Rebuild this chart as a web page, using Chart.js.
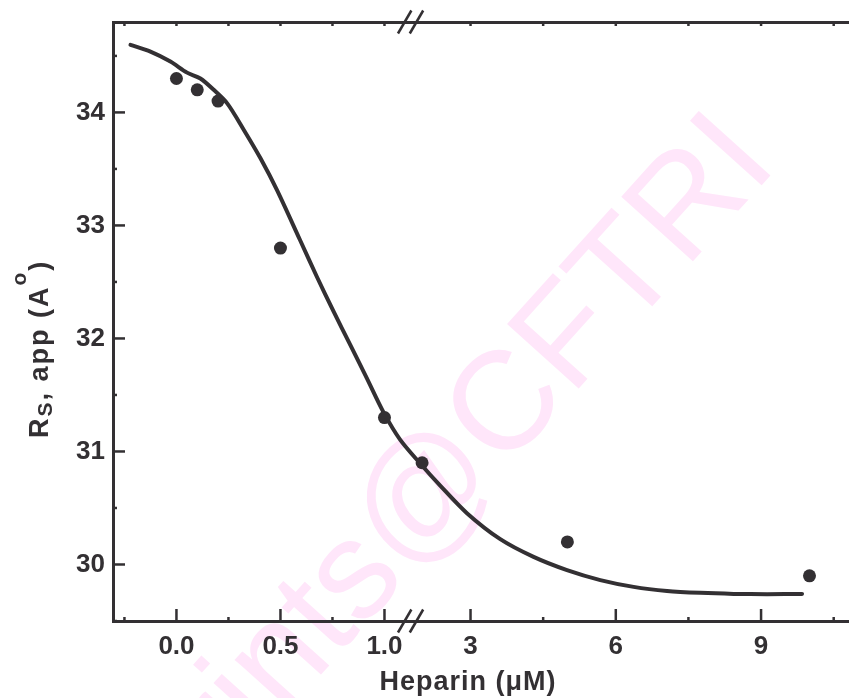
<!DOCTYPE html>
<html>
<head>
<meta charset="utf-8">
<script src="https://cdn.jsdelivr.net/npm/chart.js@4.4.1/dist/chart.umd.min.js"></script>
<style>
  html, body { margin: 0; padding: 0; background: #ffffff; }
  #wrap { width: 849px; height: 698px; }
</style>
</head>
<body>
<div id="wrap"><canvas id="c" width="849" height="698"></canvas></div>
<script>
// Measured apparent Stokes radius against heparin concentration
const heparin = [0, 0.1, 0.2, 0.5, 1.0, 2.0, 5.0, 10.0];
const rsApp   = [34.3, 34.2, 34.1, 32.8, 31.3, 30.9, 30.2, 29.9];

// Fitted curve, sampled along its length
const fitHeparin = [-0.221, -0.125, -0.029, 0.051, 0.115, 0.179, 0.244, 0.324, 0.404, 0.484,
                    0.594, 0.675, 0.754, 0.835, 0.915, 0.995, 1.075,
                    1.961, 2.374, 2.926, 3.614, 4.302, 4.992, 5.68, 6.368, 7.058, 7.746, 8.434, 9.124, 9.847];
const fitRs = [34.598, 34.538, 34.45, 34.352, 34.30, 34.20, 34.08, 33.845, 33.594, 33.31,
               32.871, 32.546, 32.243, 31.946, 31.649, 31.348, 31.105,
               30.894, 30.698, 30.454, 30.224, 30.067, 29.95, 29.862, 29.802, 29.766, 29.749, 29.74, 29.737, 29.74];

// Axis ticks
const xTickValues = [0, 0.5, 1.0, 3, 6, 9];
const xTickLabels = ['0.0', '0.5', '1.0', '3', '6', '9'];
const xMinorValues = [-0.25, 0.25, 0.75, 4.5, 7.5, 10.5];
const yTickValues = [30, 31, 32, 33, 34];
const yMinorValues = [29.5, 30.5, 31.5, 32.5, 33.5, 34.5];

// Broken x axis: 0..1.125 at full scale, then 1.76 onward compressed
const BREAK_LO = 1.125;
const BREAK_HI = 1.76;
const RIGHT_SCALE = 0.23277;

const INK = '#333033';
const FONT = '"Liberation Sans", Arial, Helvetica, sans-serif';
const WATERMARK = 'rgb(255, 230, 250)';

function toAxis(v) {
  return v <= BREAK_LO ? v : BREAK_LO + (Math.max(v, BREAK_HI) - BREAK_HI) * RIGHT_SCALE;
}
function fromAxis(u) {
  return u <= BREAK_LO ? u : BREAK_HI + (u - BREAK_LO) / RIGHT_SCALE;
}

// Linear scale with a gap between BREAK_LO and BREAK_HI
class BrokenLinearScale extends Chart.LinearScale {
  getPixelForValue(value) {
    if (value === null || value === undefined || isNaN(value)) return NaN;
    const a0 = toAxis(this.min), a1 = toAxis(this.max);
    return this.getPixelForDecimal((toAxis(value) - a0) / (a1 - a0));
  }
  getValueForPixel(pixel) {
    const a0 = toAxis(this.min), a1 = toAxis(this.max);
    return fromAxis(a0 + this.getDecimalForPixel(pixel) * (a1 - a0));
  }
  buildTicks() {
    return xTickValues.map(v => ({ value: v }));
  }
}
BrokenLinearScale.id = 'brokenLinear';
BrokenLinearScale.defaults = Chart.LinearScale.defaults;
Chart.register(BrokenLinearScale);

function line(ctx, x1, y1, x2, y2) {
  ctx.beginPath(); ctx.moveTo(x1, y1); ctx.lineTo(x2, y2); ctx.stroke();
}

function drawRuns(ctx, runs, letterSpacing) {
  let cx = 0;
  runs.forEach(r => {
    ctx.font = 'bold ' + r.size + 'px ' + FONT;
    ctx.letterSpacing = letterSpacing;
    ctx.fillText(r.t, cx, r.dy || 0);
    cx += ctx.measureText(r.t).width;
  });
}

const decor = {
  id: 'decor',
  beforeDraw(chart) {
    const ctx = chart.ctx;
    ctx.save();
    ctx.translate(427, 499);
    ctx.rotate(-48 * Math.PI / 180);
    ctx.font = '140px ' + FONT;
    ctx.fillStyle = WATERMARK;
    ctx.textBaseline = 'middle';
    const pre = ctx.measureText('reprints').width;
    const at = ctx.measureText('@').width;
    ctx.fillText('reprints@CFTRI', -pre - at / 2, 0);
    ctx.restore();
  },
  afterDraw(chart) {
    const { ctx, chartArea: a } = chart;
    const x = chart.scales.x, y = chart.scales.y;
    ctx.save();
    ctx.strokeStyle = INK;
    ctx.fillStyle = INK;
    ctx.lineWidth = 2.5;

    // bottom axis ticks (inward)
    xTickValues.forEach(v => { const p = x.getPixelForValue(v); line(ctx, p, a.bottom, p, a.bottom - 12); });
    xMinorValues.forEach(v => { const p = x.getPixelForValue(v); line(ctx, p, a.bottom, p, a.bottom - 4); });
    // top axis small ticks
    xTickValues.concat(xMinorValues).forEach(v => { const p = x.getPixelForValue(v); line(ctx, p, a.top, p, a.top + 4); });
    // left axis ticks
    yTickValues.forEach(v => { const p = y.getPixelForValue(v); line(ctx, a.left, p, a.left + 12, p); });
    yMinorValues.forEach(v => { const p = y.getPixelForValue(v); line(ctx, a.left, p, a.left + 4, p); });

    // break marks on both horizontal axes
    const bx = x.getPixelForValue(BREAK_LO);
    [a.bottom, a.top].forEach(ay => {
      [-5.8, 6.0].forEach(off => {
        line(ctx, bx + off - 6.7, ay + 11.5, bx + off + 6.7, ay - 11.5);
      });
    });

    // x axis title
    ctx.textAlign = 'center';
    ctx.textBaseline = 'alphabetic';
    ctx.font = 'bold 27px ' + FONT;
    ctx.letterSpacing = '1px';
    ctx.fillText('Heparin (\u03BCM)', 468, 690);

    // y axis title with subscript and superscript
    ctx.translate(47.5, 438);
    ctx.rotate(-Math.PI / 2);
    ctx.textAlign = 'left';
    drawRuns(ctx, [
      { t: 'R', size: 27 },
      { t: 'S', size: 21, dy: 4 },
      { t: ', app (A', size: 27 },
      { t: 'o', size: 21, dy: -22 },
      { t: ')', size: 27 }
    ], '2px');
    ctx.restore();
  }
};

const tickFont = { family: FONT, size: 26, weight: 'bold' };
const X_MIN = -0.305, X_MAX = 10.816;

new Chart(document.getElementById('c'), {
  data: {
    datasets: [
      {
        type: 'line',
        data: fitHeparin.map((v, i) => ({ x: v, y: fitRs[i] })),
        borderColor: INK,
        borderWidth: 4,
        pointRadius: 0,
        tension: 0.3,
        fill: false,
        borderCapStyle: 'round',
        borderJoinStyle: 'round'
      },
      {
        type: 'scatter',
        data: heparin.map((v, i) => ({ x: v, y: rsApp[i] })),
        backgroundColor: INK,
        borderWidth: 0,
        pointRadius: 6.5,
        pointHoverRadius: 6.5
      }
    ]
  },
  options: {
    responsive: false,
    animation: false,
    devicePixelRatio: 1,
    layout: { autoPadding: false, padding: { top: 22, right: 0, bottom: 0, left: 0 } },
    plugins: { legend: { display: false }, tooltip: { enabled: false } },
    scales: {
      x: {
        type: 'brokenLinear',
        position: 'bottom',
        min: X_MIN,
        max: X_MAX,
        grid: { display: false, drawTicks: false },
        border: { display: true, width: 3, color: INK },
        ticks: {
          autoSkip: false,
          maxRotation: 0,
          padding: 10,
          color: INK,
          font: tickFont,
          callback: (v, i) => xTickLabels[i]
        },
        afterFit: s => { s.height = 77; s.paddingLeft = 0; s.paddingRight = 0; }
      },
      xTop: {
        type: 'linear',
        position: 'top',
        min: 0,
        max: 1,
        grid: { display: false, drawTicks: false },
        border: { display: true, width: 3, color: INK },
        ticks: { display: false },
        afterFit: s => { s.height = 0; s.paddingLeft = 0; s.paddingRight = 0; }
      },
      y: {
        type: 'linear',
        position: 'left',
        min: 29.5,
        max: 34.8,
        grid: { display: false, drawTicks: false },
        border: { display: true, width: 3, color: INK },
        ticks: { padding: 8, color: INK, font: tickFont },
        afterBuildTicks: s => { s.ticks = yTickValues.map(v => ({ value: v })); },
        afterFit: s => { s.width = 113; s.paddingTop = 0; s.paddingBottom = 0; }
      }
    }
  },
  plugins: [decor]
});
</script>
</body>
</html>
